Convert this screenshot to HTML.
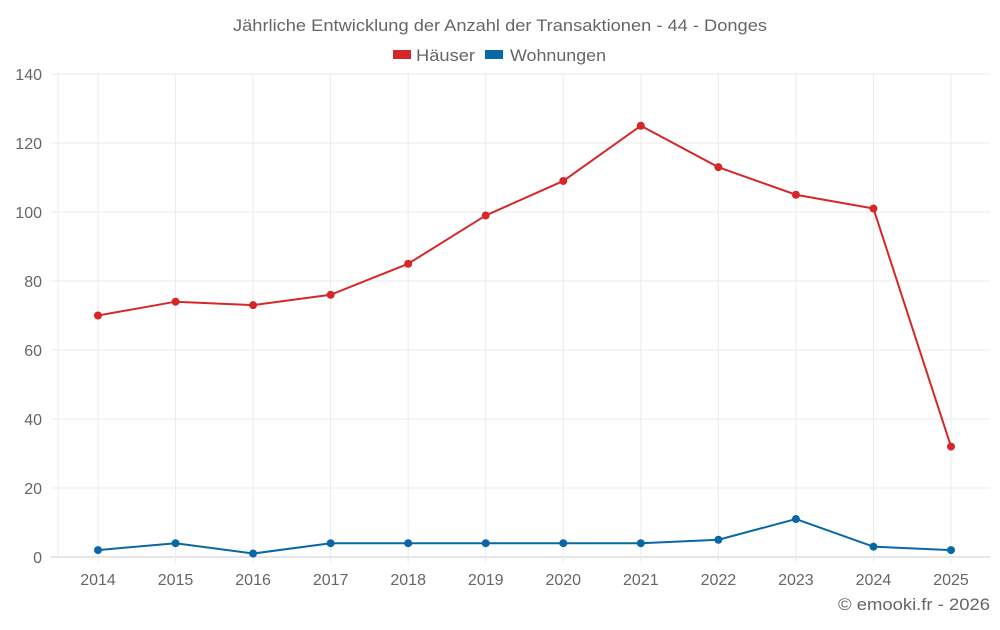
<!DOCTYPE html>
<html><head><meta charset="utf-8"><style>
body{margin:0;background:#fff;font-family:"Liberation Sans",sans-serif}
svg text{font-family:"Liberation Sans",sans-serif;fill:#666}
</style></head><body>
<svg id="c" width="1000" height="625">
<text x="233" y="31" textLength="534" lengthAdjust="spacingAndGlyphs" font-size="17">Jährliche Entwicklung der Anzahl der Transaktionen - 44 - Donges</text>
<g><rect x="393" y="50" width="18" height="9" fill="#d62728"/><text x="416" y="61" font-size="17" textLength="59" lengthAdjust="spacingAndGlyphs">Häuser</text></g>
<g><rect x="485" y="50" width="18" height="9" fill="#0868a6"/><text x="510" y="61" font-size="17" textLength="96" lengthAdjust="spacingAndGlyphs">Wohnungen</text></g>
<g id="grid"></g><g id="axes"></g><g id="series"></g>
<text x="838" y="610" textLength="152" lengthAdjust="spacingAndGlyphs" font-size="17">© emooki.fr - 2026</text>
</svg>
<script>
const years=[2014,2015,2016,2017,2018,2019,2020,2021,2022,2023,2024,2025];
const hauser=[70,74,73,76,85,99,109,125,113,105,101,32];
const wohnungen=[2,4,1,4,4,4,4,4,5,11,3,2];
const yTicks=[0,20,40,60,80,100,120,140];
const NS="http://www.w3.org/2000/svg";
const x0=98,x1=951,yb=557,yt=74,ymax=140,left=58,right=990;
const X=i=>x0+(x1-x0)*i/(years.length-1);
const Y=v=>yb-(yb-yt)*v/ymax;
function mk(t,a,p){const e=document.createElementNS(NS,t);for(const k in a)e.setAttribute(k,a[k]);p.appendChild(e);return e;}
const g=document.getElementById('grid'),ax=document.getElementById('axes'),s=document.getElementById('series');
yTicks.forEach(v=>{const l=mk('line',{x1:51,x2:right,y1:Y(v),y2:Y(v),stroke:v?'#ebebeb':'#ccc'},g);


const t=mk('text',{x:42,y:Y(v)+6,'text-anchor':'end','font-size':16},ax);t.textContent=v;

});
mk('line',{x1:left,x2:left,y1:yt,y2:yb,stroke:'#ebebeb'},g);
years.forEach((yr,i)=>{const l=mk('line',{x1:X(i),x2:X(i),y1:yt,y2:yb+6,stroke:'#ebebeb'},g);


const t=mk('text',{x:X(i),y:585,'text-anchor':'middle','font-size':16},ax);t.textContent=yr;

});
function series(d,c,n){const p=mk('polyline',{points:d.map((v,i)=>X(i)+','+Y(v)).join(' '),fill:'none',stroke:c,'stroke-width':2},s);


d.forEach((v,i)=>{const q=mk('circle',{cx:X(i),cy:Y(v),r:4,fill:c},s);

});}
series(hauser,'#d62728','hauser');
series(wohnungen,'#0868a6','wohnungen');
</script></body></html>
